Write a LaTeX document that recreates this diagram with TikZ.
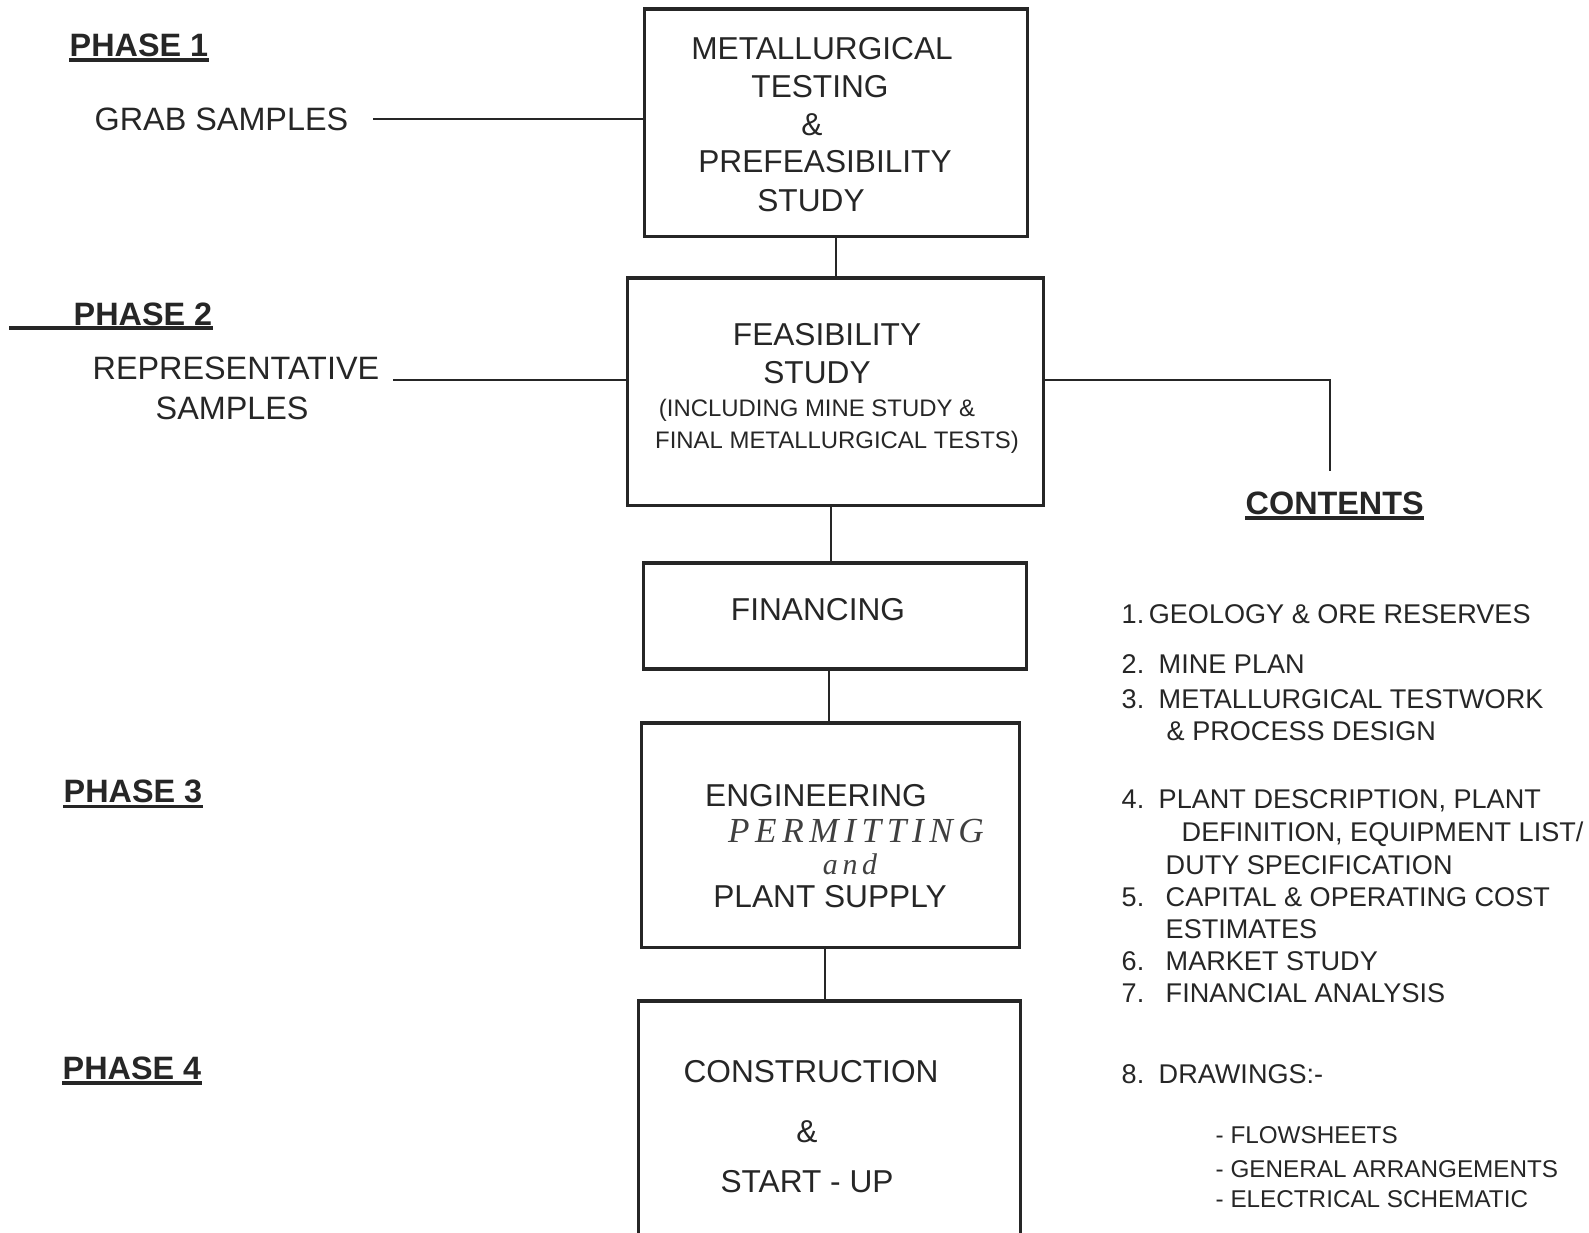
\documentclass[tikz,border=0pt]{standalone}
\usepackage{fontspec}
\setmainfont{Liberation Sans}
\newfontfamily\handfont[LetterSpace=16]{Liberation Serif}
\usetikzlibrary{calc}

\begin{document}
\begin{tikzpicture}[x=0.01cm, y=-0.01cm, color=black!85,
box/.style={draw, line width=.9pt, inner sep=0},
conn/.style={line width=.8pt},
uline/.style={line width=1pt},
txt/.style={inner sep=0, anchor=base, font=\fontsize{9}{10.8}\selectfont},
small/.style={inner sep=0, anchor=base, font=\fontsize{6.8}{8}\selectfont},
hand/.style={inner sep=0, anchor=base, text=black!75, font=\handfont\itshape\fontsize{10}{12}\selectfont},
lbl/.style={inner sep=0, anchor=base west, font=\fontsize{9.2}{11}\selectfont},
phase/.style={inner sep=0, anchor=base west, font=\fontsize{9.2}{11}\selectfont\bfseries},
item/.style={inner sep=0, anchor=base west, font=\fontsize{7.7}{9}\selectfont},
subitem/.style={inner sep=0, anchor=base west, font=\fontsize{6.9}{8}\selectfont}]

% SIZE OF THE PAGE
\useasboundingbox (0,0) rectangle (1589,1232);

%%%%%%%%% BOXES %%%%%%%%%%%%%
\node[box, minimum width=3.82cm, minimum height=2.27cm] (box1) at (836,122.5) {};
\node[box, minimum width=4.15cm, minimum height=2.27cm] (box2) at (835.5,391.5) {};
\node[box, minimum width=3.82cm, minimum height=1.06cm] (box3) at (835,616) {};
\node[box, minimum width=3.77cm, minimum height=2.24cm] (box4) at (830.5,835) {};
\node[box, minimum width=3.81cm, minimum height=2.40cm] (box5) at (829.5,1121) {};

% BOX TEXTS
\node[txt] (t11) at (822,59) {METALLURGICAL};
\node[txt] (t12) at (820,97.5) {TESTING};
\node[txt] (t13) at (812,135) {\&};
\node[txt] (t14) at (825,172.5) {PREFEASIBILITY};
\node[txt] (t15) at (811,211) {STUDY};

\node[txt] (t21) at (827,345) {FEASIBILITY};
\node[txt] (t22) at (817,383) {STUDY};
\node[small] (t23) at (817,416) {(INCLUDING MINE STUDY \&};
\node[small] (t24) at (837,448.5) {FINAL METALLURGICAL TESTS)};

\node[txt] (t31) at (818,620.5) {FINANCING};

\node[txt] (t41) at (816,806) {ENGINEERING};
\node[hand] (t42) at (856,842) {PERMITTING};
\node[hand, font=\handfont\itshape\fontsize{8.5}{10}\selectfont] (t43) at (850,874) {and};
\node[txt] (t44) at (830,907.5) {PLANT SUPPLY};

\node[txt] (t51) at (811,1082) {CONSTRUCTION};
\node[txt] (t52) at (807,1142) {\&};
\node[txt] (t53) at (807,1192.5) {START - UP};

%%%%%%%%% CONNECTORS %%%%%%%%
\draw[conn] (box1.south) -- (box1.south |- box2.north);
\draw[conn] ([xshift=-.045cm]box2.south) -- ([xshift=-.045cm]box2.south |- box3.north);
\draw[conn] ([xshift=-.06cm]box3.south) -- ([xshift=-.06cm]box3.south |- box4.north);
\draw[conn] ([xshift=-.055cm]box4.south) -- ([xshift=-.055cm]box4.south |- box5.north);

\coordinate (grab) at (373,119);
\draw[conn] (grab) -- (grab -| box1.west);
\coordinate (rep) at (393,380);
\draw[conn] (rep) -- (rep -| box2.west);
\coordinate (cont) at (1330,471);
\draw[conn] (rep -| box2.east) -| (cont);

%%%%%%%%% LEFT SIDE %%%%%%%%%
\node[phase] (ph1) at (69,56) {PHASE 1};
\node[phase] (ph2) at (73,325) {PHASE 2};
\node[phase] (ph3) at (63,802) {PHASE 3};
\node[phase] (ph4) at (62,1079) {PHASE 4};
\draw[uline] ([yshift=-.9pt]ph1.south west) -- ([yshift=-.9pt]ph1.south east);
\coordinate (ph2start) at (9,328);
\draw[uline] (ph2start) -- (ph2start -| ph2.east);
\draw[uline] ([yshift=-.9pt]ph3.south west) -- ([yshift=-.9pt]ph3.south east);
\draw[uline] ([yshift=-.9pt]ph4.south west) -- ([yshift=-.9pt]ph4.south east);

\node[lbl] (grabtxt) at (94,130) {GRAB SAMPLES};
\node[lbl] (reptxt) at (92,379.5) {REPRESENTATIVE};
\node[lbl] (samptxt) at (155,419) {SAMPLES};

%%%%%%%%% CONTENTS %%%%%%%%%%
\node[phase] (conttxt) at (1245,514) {CONTENTS};
\draw[uline] ([yshift=-.9pt]conttxt.south west) -- ([yshift=-.9pt]conttxt.south east);

\node[item] (c1) at (1121,623) {1.\,GEOLOGY \& ORE RESERVES};
\node[item] (c2) at (1121,673.5) {\makebox[.37cm][l]{2.}MINE PLAN};
\node[item] (c3) at (1121,708) {\makebox[.37cm][l]{3.}METALLURGICAL TESTWORK};
\node[item] (c3b) at (1166,740.4) {\& PROCESS DESIGN};
\node[item] (c4) at (1121,808.3) {\makebox[.37cm][l]{4.}PLANT DESCRIPTION, PLANT};
\node[item] (c4b) at (1181,841.7) {DEFINITION, EQUIPMENT LIST/};
\node[item] (c4c) at (1165,874.1) {DUTY SPECIFICATION};
\node[item] (c5) at (1121,906.6) {\makebox[.44cm][l]{5.}CAPITAL \& OPERATING COST};
\node[item] (c5b) at (1165,938) {ESTIMATES};
\node[item] (c6) at (1121,970.4) {\makebox[.44cm][l]{6.}MARKET STUDY};
\node[item] (c7) at (1121,1002.8) {\makebox[.44cm][l]{7.}FINANCIAL ANALYSIS};
\node[item] (c8) at (1121,1083.5) {\makebox[.37cm][l]{8.}DRAWINGS:-};
\node[subitem] (d1) at (1215,1143.5) {- FLOWSHEETS};
\node[subitem] (d2) at (1215,1177.5) {- GENERAL ARRANGEMENTS};
\node[subitem] (d3) at (1215,1207.5) {- ELECTRICAL SCHEMATIC};
\end{tikzpicture}
\end{document}
